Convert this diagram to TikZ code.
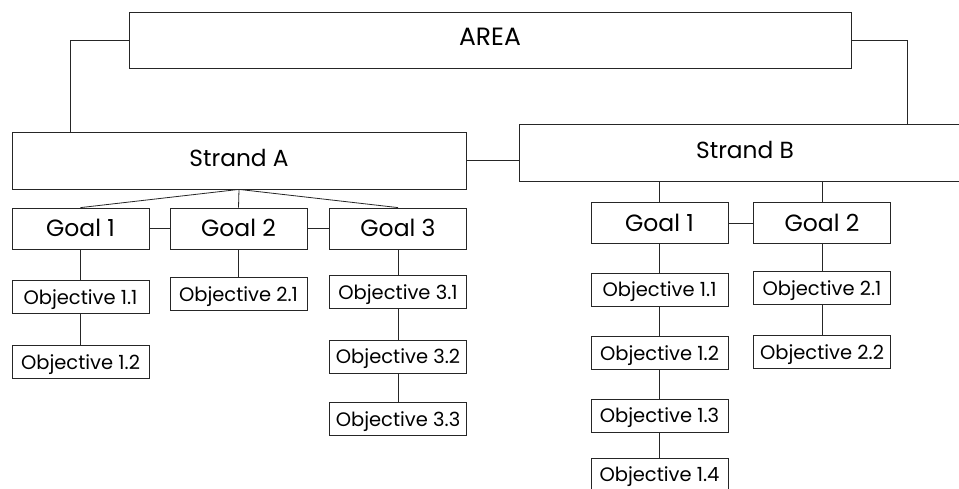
\documentclass[tikz,border=0pt]{standalone}
\usepackage{fontspec}
\setmainfont{Poppins}
\usetikzlibrary{calc}
\tikzset{
  box/.style={draw=black!85, line width=0.8pt, inner sep=0pt, text depth=0pt, align=center},
  areabox/.style={box, minimum width=722pt, minimum height=56pt, text height=10pt, font=\fontsize{25}{25}\selectfont},
  strandbox/.style={box, minimum height=57pt, text height=11.5pt, font=\fontsize{23.3}{23.3}\selectfont},
  goalbox/.style={box, minimum width=137pt, minimum height=41pt, text height=16.5pt, font=\fontsize{23.5}{23.5}\selectfont},
  objbox/.style={box, minimum width=137pt, minimum height=33pt, text height=14pt, font=\fontsize{19.5}{19.5}\selectfont},
  link/.style={draw=black!85, line width=0.8pt}
}
\begin{document}
\begin{tikzpicture}[x=1pt,y=-1pt]
\useasboundingbox (0,0) rectangle (959,488);
\clip (0,0) rectangle (959,488);
\fill[white] (0,0) rectangle (959,488);
% top level
\node[areabox] (area) at (490,40) {AREA};
\node[strandbox, minimum width=454pt] (sA) at (239,160.5) {Strand A};
\node[strandbox, minimum width=452pt] (sB) at (745,152.5) {Strand B};
% goals strand A
\node[goalbox] (a1) at (80.5,228.5) {Goal 1};
\node[goalbox] (a2) at (238.5,228.5) {Goal 2};
\node[goalbox] (a3) at (398,228.5) {Goal 3};
% goals strand B
\node[goalbox] (b1) at (659.5,223) {Goal 1};
\node[goalbox] (b2) at (822,223) {Goal 2};
% objectives strand A
\node[objbox] (a11) at (80.5,297) {Objective 1.1};
\node[objbox] (a12) at (80.5,362) {Objective 1.2};
\node[objbox] (a21) at (238.5,294) {Objective 2.1};
\node[objbox] (a31) at (398,292) {Objective 3.1};
\node[objbox] (a32) at (398,356.5) {Objective 3.2};
\node[objbox] (a33) at (398,419) {Objective 3.3};
% objectives strand B
\node[objbox] (b11) at (659.5,289.5) {Objective 1.1};
\node[objbox] (b12) at (659.5,353) {Objective 1.2};
\node[objbox] (b13) at (659.5,415.5) {Objective 1.3};
\node[objbox] (b14) at (659.5,474.5) {Objective 1.4};
\node[objbox] (b21) at (822,288) {Objective 2.1};
\node[objbox] (b22) at (822,352) {Objective 2.2};
% connectors
\coordinate (cl) at ([xshift=59pt]sA.north west);
\coordinate (cr) at ([xshift=389pt]sB.north west);
\draw[link] (area.west) -| (cl);
\draw[link] (area.east) -| (cr);
\draw[link] (sA.east) -- (sA.east -| sB.west);
\draw[link] (sA.south) -- (a1.north);
\draw[link] (sA.south) -- (a2.north);
\draw[link] (sA.south) -- (a3.north);
\draw[link] (a1.east) -- (a2.west);
\draw[link] (a2.east) -- (a3.west);
\draw[link] (b1.north |- sB.south) -- (b1.north);
\draw[link] (b2.north |- sB.south) -- (b2.north);
\draw[link] (b1.east) -- (b2.west);
\draw[link] (a1.south) -- (a11.north);
\draw[link] (a11.south) -- (a12.north);
\draw[link] (a2.south) -- (a21.north);
\draw[link] (a3.south) -- (a31.north);
\draw[link] (a31.south) -- (a32.north);
\draw[link] (a32.south) -- (a33.north);
\draw[link] (b1.south) -- (b11.north);
\draw[link] (b11.south) -- (b12.north);
\draw[link] (b12.south) -- (b13.north);
\draw[link] (b13.south) -- (b14.north);
\draw[link] (b2.south) -- (b21.north);
\draw[link] (b21.south) -- (b22.north);
\end{tikzpicture}
\end{document}
